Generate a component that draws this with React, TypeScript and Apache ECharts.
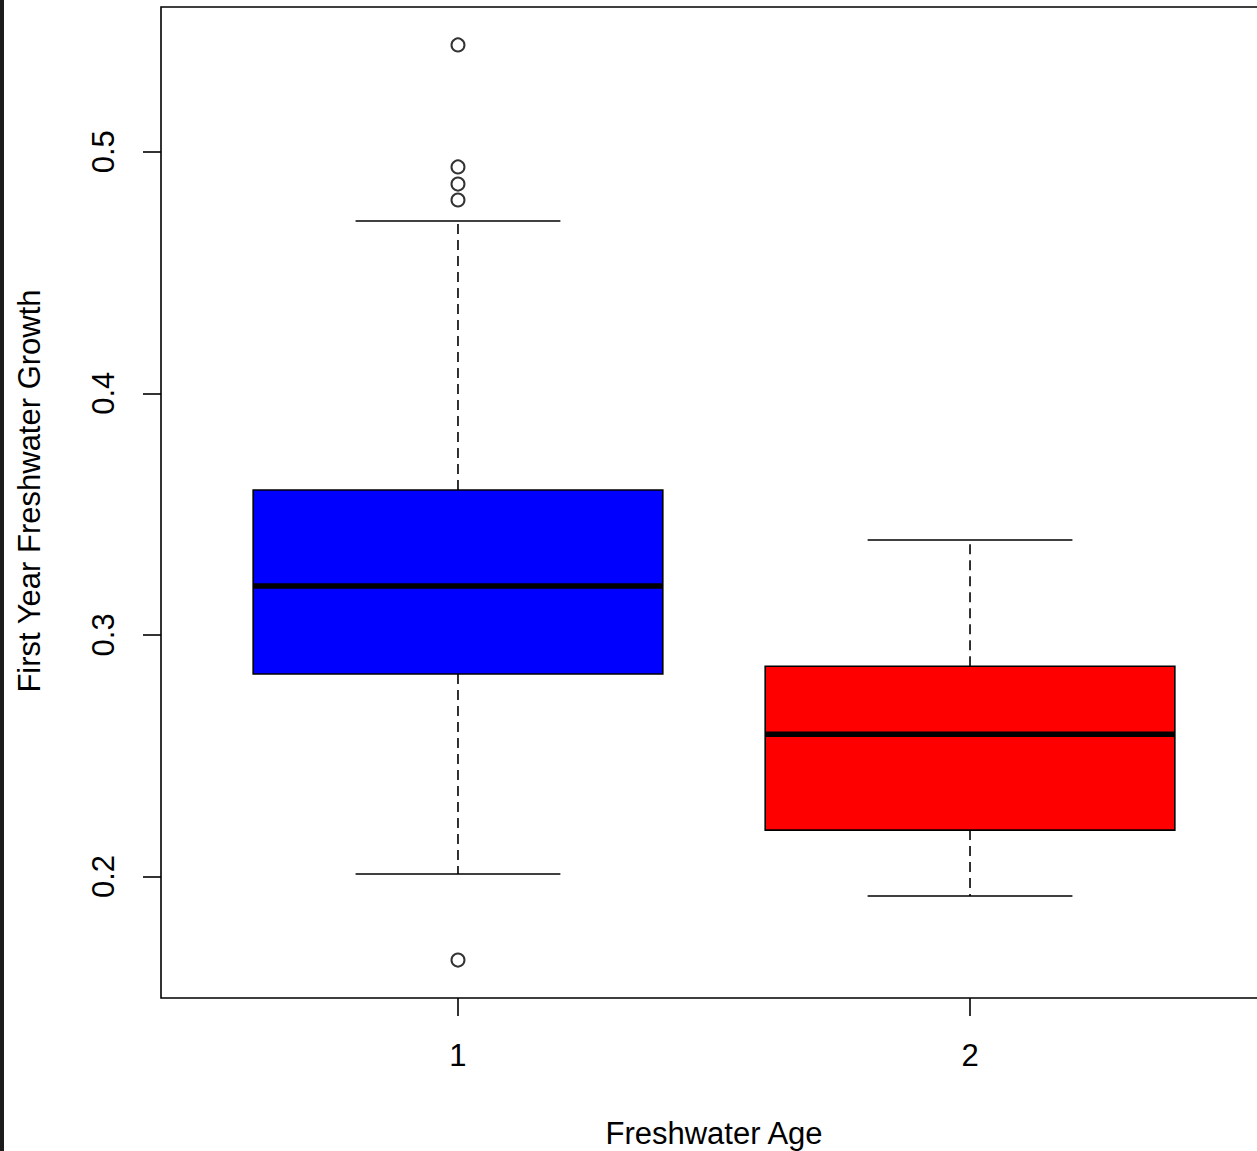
import React, { useEffect, useRef } from "react";
import * as echarts from "echarts";

// Box statistics per freshwater age: [position, lowerWhisker, q1, median, q3, upperWhisker]
const categories = ["1", "2"];
const positions = [1, 2];
const lowerWhisker = [0.201, 0.1919];
const q1 = [0.2838, 0.2192];
const median = [0.3202, 0.2589];
const q3 = [0.36, 0.287];
const upperWhisker = [0.4713, 0.3393];
const boxColors = ["#0000ff", "#ff0000"];

// Outliers (group position, value)
const outlierGroup = [1, 1, 1, 1, 1];
const outlierValues = [0.5442, 0.4937, 0.4866, 0.48, 0.1654];

const yTicks = [0.2, 0.3, 0.4, 0.5];

const FONT = "'Liberation Sans', Arial, sans-serif";

export default function App() {
  const ref = useRef<HTMLDivElement>(null);

  useEffect(() => {
    document.body.style.margin = "0";
    const chart = echarts.init(ref.current!, undefined, { renderer: "svg" });

    const boxData = positions.map((p, i) => [
      p,
      lowerWhisker[i],
      q1[i],
      median[i],
      q3[i],
      upperWhisker[i],
    ]);

    const renderItem = (params: any, api: any) => {
      const x = api.value(0);
      const lo = api.value(1);
      const a = api.value(2);
      const m = api.value(3);
      const b = api.value(4);
      const hi = api.value(5);
      const halfBox = 0.4;
      const halfCap = 0.2;
      const c = (xx: number, yy: number) => api.coord([xx, yy]);
      const pLo = c(x, lo);
      const pA = c(x, a);
      const pB = c(x, b);
      const pHi = c(x, hi);
      const boxTL = c(x - halfBox, b);
      const boxBR = c(x + halfBox, a);
      const medL = c(x - halfBox, m);
      const medR = c(x + halfBox, m);
      const capHiL = c(x - halfCap, hi);
      const capHiR = c(x + halfCap, hi);
      const capLoL = c(x - halfCap, lo);
      const capLoR = c(x + halfCap, lo);
      const dashStyle = { stroke: "#000", lineWidth: 1.6, lineDash: [10, 6] };
      const solid = { stroke: "#000", lineWidth: 1.6 };
      return {
        type: "group",
        children: [
          { type: "line", shape: { x1: pB[0], y1: pB[1], x2: pHi[0], y2: pHi[1] }, style: dashStyle },
          { type: "line", shape: { x1: pA[0], y1: pA[1], x2: pLo[0], y2: pLo[1] }, style: dashStyle },
          { type: "line", shape: { x1: capHiL[0], y1: capHiL[1], x2: capHiR[0], y2: capHiR[1] }, style: solid },
          { type: "line", shape: { x1: capLoL[0], y1: capLoL[1], x2: capLoR[0], y2: capLoR[1] }, style: solid },
          {
            type: "rect",
            shape: {
              x: boxTL[0],
              y: boxTL[1],
              width: boxBR[0] - boxTL[0],
              height: boxBR[1] - boxTL[1],
            },
            style: { fill: boxColors[params.dataIndex], stroke: "#000", lineWidth: 1.6 },
          },
          {
            type: "line",
            shape: { x1: medL[0], y1: medL[1], x2: medR[0], y2: medR[1] },
            style: { stroke: "#000", lineWidth: 5.5 },
          },
        ],
      };
    };

    chart.setOption({
      animation: false,
      backgroundColor: "#ffffff",
      grid: {
        left: 161,
        top: 7,
        width: 1106,
        height: 991,
        show: true,
        borderColor: "#000",
        borderWidth: 1.6,
        backgroundColor: "transparent",
      },
      xAxis: {
        type: "value",
        min: 0.42,
        max: 2.58,
        axisLine: { show: false },
        splitLine: { show: false },
        axisTick: {
          show: true,
          customValues: positions,
          length: 18,
          lineStyle: { color: "#000", width: 1.6 },
        },
        axisLabel: {
          show: true,
          customValues: positions,
          formatter: (v: number) => categories[positions.indexOf(v)] ?? "",
          margin: 42,
          fontSize: 31,
          color: "#000",
          fontFamily: FONT,
        },
      },
      yAxis: {
        type: "value",
        min: 0.1497,
        max: 0.5599,
        axisLine: { show: false },
        splitLine: { show: false },
        axisTick: {
          show: true,
          customValues: yTicks,
          length: 18,
          lineStyle: { color: "#000", width: 1.6 },
        },
        axisLabel: {
          show: true,
          customValues: yTicks,
          rotate: 90,
          formatter: (v: number) => v.toFixed(1),
          margin: 42,
          fontSize: 31,
          color: "#000",
          fontFamily: FONT,
        },
      },
      graphic: [
        {
          type: "rect",
          shape: { x: 0, y: 0, width: 4, height: 1151 },
          style: { fill: "#1c1c1c" },
          z: 100,
        },
        {
          type: "text",
          x: 714,
          y: 1133,
          style: {
            text: "Freshwater Age",
            fontSize: 31,
            fontFamily: FONT,
            fill: "#000",
            align: "center",
            verticalAlign: "middle",
          },
        },
        {
          type: "text",
          x: 29,
          y: 491,
          rotation: Math.PI / 2,
          style: {
            text: "First Year Freshwater Growth",
            fontSize: 31,
            fontFamily: FONT,
            fill: "#000",
            align: "center",
            verticalAlign: "middle",
          },
        },
      ],
      series: [
        {
          type: "custom",
          renderItem,
          data: boxData,
          encode: { x: 0, y: [1, 2, 3, 4, 5] },
          z: 2,
        },
        {
          type: "scatter",
          symbol: "emptyCircle",
          symbolSize: 13,
          data: outlierGroup.map((g, i) => [g, outlierValues[i]]),
          itemStyle: { color: "#000", borderColor: "#000", borderWidth: 1.8 },
          z: 3,
        },
      ],
    });

    return () => chart.dispose();
  }, []);

  return (
    <div style={{ width: 1257, height: 1151, overflow: "hidden", background: "#fff" }}>
      <div ref={ref} style={{ width: 1300, height: 1151, background: "#fff" }} />
    </div>
  );
}
